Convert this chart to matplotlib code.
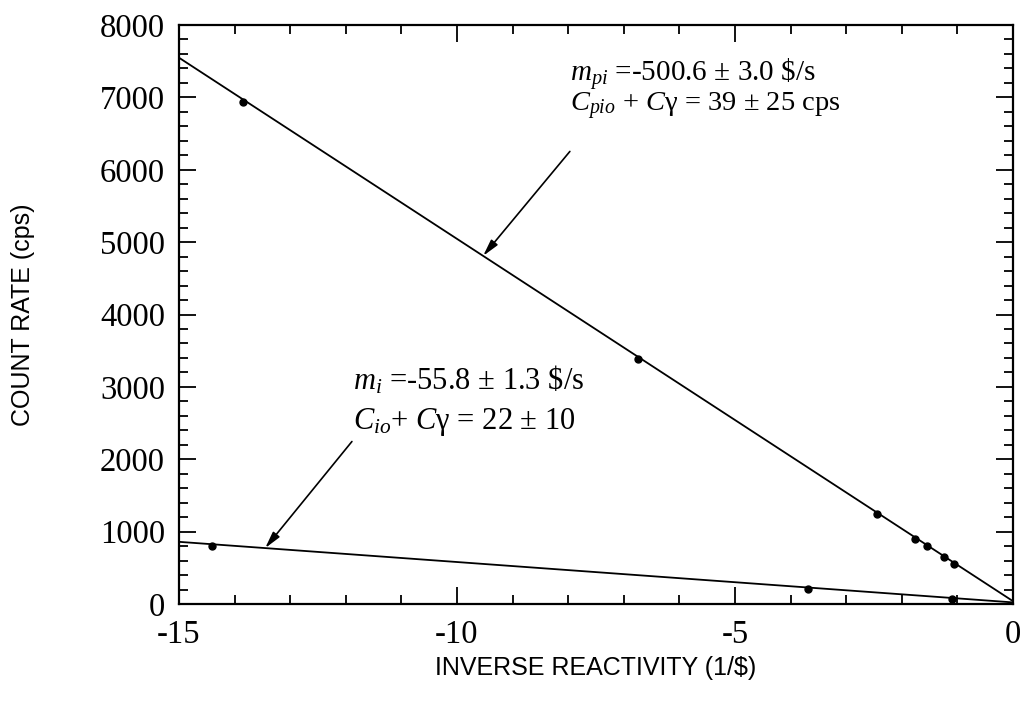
import numpy as np
import matplotlib
matplotlib.use("Agg")
import matplotlib.pyplot as plt
from matplotlib.ticker import MultipleLocator

plt.rcParams['font.family'] = ['Liberation Serif', 'DejaVu Serif']
plt.rcParams['mathtext.fontset'] = 'custom'
plt.rcParams['mathtext.rm'] = 'Liberation Serif'
plt.rcParams['mathtext.it'] = 'Liberation Serif:italic'
plt.rcParams['axes.unicode_minus'] = False

# measured points
upper_x = [-13.85, -6.75, -2.45, -1.76, -1.55, -1.25, -1.07]
upper_y = [6932, 3390, 1244, 895, 795, 643, 555]
lower_x = [-14.4, -3.69, -1.10]
lower_y = [800, 206, 73]

# fit results quoted on the chart
m_pi, c_pi = -500.6, 39
m_i, c_i = -55.8, 22

x_ticks = [-15, -10, -5, 0]
y_ticks = [0, 1000, 2000, 3000, 4000, 5000, 6000, 7000, 8000]

fig = plt.figure(figsize=(10.26, 7.07), dpi=100)
ax = fig.add_axes([179 / 1026, 1 - 604 / 707, 834 / 1026, 579 / 707])

fit_x = np.array([-15.0, 0.0])
ax.plot(fit_x, m_pi * fit_x + c_pi, color='black', lw=1.3)
ax.plot(fit_x, m_i * fit_x + c_i, color='black', lw=1.3)
ax.plot(upper_x, upper_y, 'o', color='black', ms=5)
ax.plot(lower_x, lower_y, 'o', color='black', ms=5)

ax.set_xlim(-15, 0)
ax.set_ylim(0, 8000)
ax.set_xticks(x_ticks)
ax.set_yticks(y_ticks)
ax.xaxis.set_minor_locator(MultipleLocator(1))
ax.yaxis.set_minor_locator(MultipleLocator(200))
ax.tick_params(which='both', direction='in', top=True, right=True, width=1.3)
ax.tick_params(which='major', length=12, labelsize=23.5)
ax.tick_params(axis='y', which='major', pad=10)
ax.tick_params(axis='x', which='major', pad=11)
ax.tick_params(which='minor', length=6.5)
for s in ax.spines.values():
    s.set_linewidth(1.6)

ax.set_xlabel('INVERSE REACTIVITY (1/$)', family='Liberation Sans', fontsize=18)
ax.xaxis.set_label_coords(0.5, -(668 - 604) / 579)
ax.xaxis.label.set_va('center')
ax.set_ylabel('COUNT RATE (cps)', family='Liberation Sans', fontsize=18)
ax.yaxis.set_label_coords(-(179 - 23) / 834, 0.5)
ax.yaxis.label.set_va('center')

# annotations
ax.text(-7.97, 7314, r'$m_{pi}$ =-500.6 ± 3.0 \$/s', fontsize=21, va='center')
ax.text(-7.97, 6873, r'$C_{pio}$ + $C$γ = 39 ± 25 cps', fontsize=20.5, va='center')
ax.annotate('', xy=(-9.53, m_pi * -9.53 + c_pi), xytext=(-7.97, 6253),
            arrowprops=dict(arrowstyle='-|>,head_length=1.0,head_width=0.25',
                            color='black', lw=1.2, shrinkA=0, shrinkB=0))

ax.text(-11.87, 3085, r'$m_i$ =-55.8 ± 1.3 \$/s', fontsize=22, va='center')
ax.text(-11.87, 2521, r'$C_{io}$+ $C$γ = 22 ± 10', fontsize=22, va='center')
ax.annotate('', xy=(-13.45, m_i * -13.45 + c_i), xytext=(-11.89, 2245),
            arrowprops=dict(arrowstyle='-|>,head_length=1.0,head_width=0.25',
                            color='black', lw=1.2, shrinkA=0, shrinkB=0))

fig.savefig('out.png', dpi=100)
